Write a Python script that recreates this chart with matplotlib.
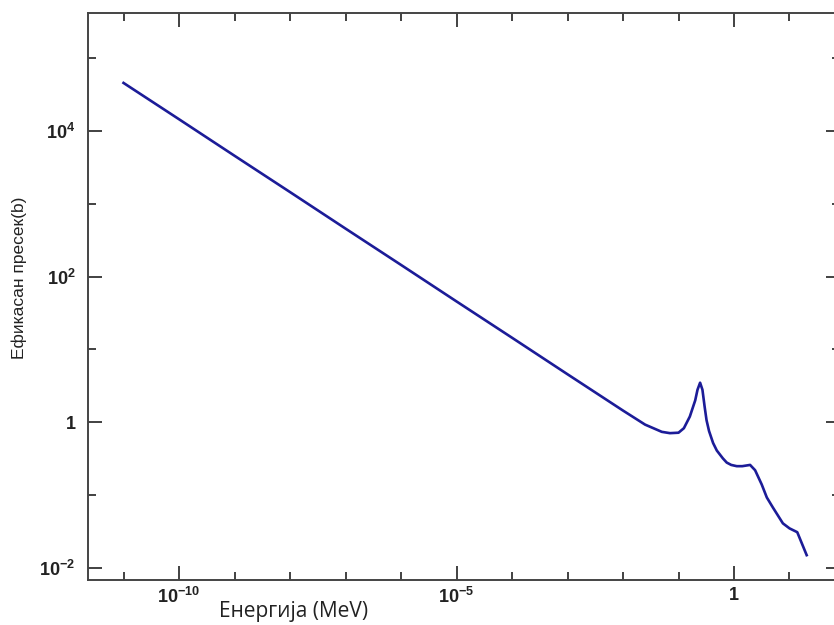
import matplotlib
matplotlib.use("Agg")
import matplotlib.pyplot as plt
from matplotlib.ticker import FixedLocator, NullFormatter

# --- data (energy in MeV, cross section in barns) ---
energy = [1e-11, 1e-10, 1e-9, 1e-8, 1e-7, 1e-6, 1e-5, 1e-4, 1e-3, 0.004,
          0.01, 0.025, 0.05, 0.07, 0.1, 0.125, 0.16, 0.2, 0.22, 0.245,
          0.27, 0.295, 0.32, 0.355, 0.42, 0.49, 0.63, 0.74, 0.89, 1.12,
          1.41, 1.95, 2.4, 3.16, 3.9, 5.0, 7.6, 10.0, 13.8, 16.6, 20.4]
sigma = [45700, 14500, 4570, 1450, 457, 145, 45.7, 14.5, 4.57, 2.29,
         1.45, 0.93, 0.74, 0.71, 0.72, 0.83, 1.2, 2.0, 2.8, 3.5,
         2.8, 1.66, 1.07, 0.76, 0.52, 0.41, 0.32, 0.28, 0.26, 0.25,
         0.25, 0.26, 0.22, 0.14, 0.093, 0.068, 0.041, 0.035, 0.031, 0.022, 0.015]

x_major = [1e-10, 1e-5, 1]
x_major_labels = [r"10$^{-10}$", r"10$^{-5}$", "1"]
x_minor = [1e-11, 1e-9, 1e-8, 1e-7, 1e-6, 1e-4, 1e-3, 1e-2, 1e-1, 10]
y_major = [1e-2, 1, 1e2, 1e4]
y_major_labels = [r"10$^{-2}$", "1", r"10$^{2}$", r"10$^{4}$"]
y_minor = [1e-1, 10, 1e3, 1e5]

plt.rcParams["mathtext.default"] = "regular"

fig = plt.figure(figsize=(8.34, 6.25), dpi=100)
ax = fig.add_axes([88 / 834, 1 - 580 / 625, (840 - 88) / 834, (580 - 13) / 625])

ax.plot(energy, sigma, color="#1c1c98", linewidth=1.9)
ax.set_xscale("log")
ax.set_yscale("log")
ax.set_xlim(10 ** -11.64, 10 ** 1.91)
ax.set_ylim(10 ** -2.165, 10 ** 5.62)

ax.xaxis.set_major_locator(FixedLocator(x_major))
ax.xaxis.set_minor_locator(FixedLocator(x_minor))
ax.set_xticklabels(x_major_labels)
ax.xaxis.set_minor_formatter(NullFormatter())
ax.yaxis.set_major_locator(FixedLocator(y_major))
ax.yaxis.set_minor_locator(FixedLocator(y_minor))
ax.set_yticklabels(y_major_labels)
ax.yaxis.set_minor_formatter(NullFormatter())

ax.tick_params(which="both", direction="in", top=True, right=True,
               color="#333333", width=1.3)
ax.tick_params(which="major", length=10)
ax.tick_params(which="minor", length=6)
ax.tick_params(axis="y", which="major", pad=9)
ax.tick_params(axis="x", which="major", pad=5)
for lab in ax.get_xticklabels() + ax.get_yticklabels():
    lab.set_fontfamily("Liberation Sans")
    lab.set_fontweight("bold")
    lab.set_fontsize(13)
    lab.set_color("#222222")

for sp in ax.spines.values():
    sp.set_color("#444444")
    sp.set_linewidth(1.4)

fig.text(294 / 834, 1 - 612 / 625, "Енергија (MeV)", ha="center", va="center",
         fontsize=15, family="Open Sans", color="#222222")
fig.text(19 / 834, 1 - 278 / 625, "Ефикасан пресек(b)", ha="center", va="center",
         rotation=90, fontsize=12.5, family="Liberation Sans", color="#222222")

fig.savefig("out.png", dpi=100)
